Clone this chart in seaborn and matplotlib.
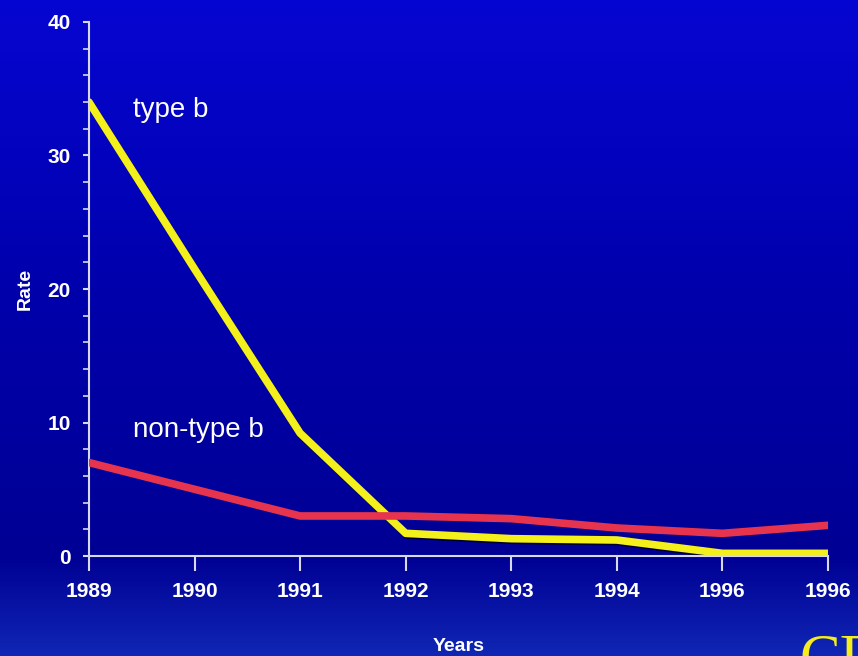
import numpy as np
import pandas as pd
import matplotlib.pyplot as plt
import matplotlib.patheffects as pe
from matplotlib.colors import LinearSegmentedColormap
import seaborn as sns

years = [1989, 1990, 1991, 1992, 1993, 1994, 1995, 1996]
year_labels = ["1989", "1990", "1991", "1992", "1993", "1994", "1996", "1996"]
type_b = [34.0, 21.5, 9.2, 1.7, 1.3, 1.2, 0.2, 0.2]
non_type_b = [7.0, 5.0, 3.0, 3.0, 2.8, 2.1, 1.7, 2.3]
y_ticks = [0, 10, 20, 30, 40]

df = pd.DataFrame({
    "year": years * 2,
    "rate": type_b + non_type_b,
    "group": ["type b"] * len(years) + ["non-type b"] * len(years),
})

sns.set_style("ticks")
plt.rcParams["font.family"] = ["Liberation Sans", "DejaVu Sans"]

fig = plt.figure(figsize=(8.58, 6.56), dpi=100)

# blue slide background
bg = fig.add_axes([0, 0, 1, 1], zorder=-1)
cmap = LinearSegmentedColormap.from_list(
    "slide", [(0.0, "#0606d2"), (0.45, "#0000ab"), (0.85, "#000094"), (1.0, "#1026b4")])
bg.imshow(np.linspace(0, 1, 256).reshape(-1, 1), aspect="auto", cmap=cmap,
          extent=[0, 1, 0, 1])
bg.axis("off")

ax = fig.add_axes([0.1037, 0.1524, 0.8613, 0.8141])
ax.set_facecolor("none")

sns.lineplot(data=df, x="year", y="rate", hue="group",
             hue_order=["type b", "non-type b"],
             palette={"type b": "#f4f01c", "non-type b": "#e6344e"},
             linewidth=5.5, legend=False, ax=ax)
ax.lines[0].set_path_effects([pe.SimpleLineShadow(offset=(0.8, -1.2), shadow_color="black", alpha=0.7),
                              pe.Normal()])
ax.lines[1].set_zorder(3)

ax.set_xlim(1989, 1996)
ax.set_ylim(0, 40)
ax.set_xticks(years)
ax.set_xticklabels(year_labels, fontweight="bold")
ax.set_yticks(y_ticks)
ax.set_yticklabels([str(v) for v in y_ticks], fontweight="bold")
ax.set_yticks(np.arange(0, 41, 2), minor=True)

axis_col = "#d8d8ec"
for side in ["top", "right"]:
    ax.spines[side].set_visible(False)
for side in ["left", "bottom"]:
    ax.spines[side].set_color(axis_col)
    ax.spines[side].set_linewidth(1.5)

ax.tick_params(axis="x", colors=axis_col, length=11, width=1.5, pad=8,
               labelcolor="white", labelsize=15)
ax.tick_params(axis="y", which="major", colors=axis_col, length=4, width=1.5, pad=9,
               labelcolor="white", labelsize=15)
ax.tick_params(axis="y", which="minor", colors=axis_col, length=4, width=1.2)

ax.set_xlabel("Years", color="white", fontsize=14, fontweight="bold", labelpad=26)
ax.set_ylabel("Rate", color="white", fontsize=14, fontweight="bold", labelpad=10)

ax.text(1989.42, 32.9, "type b", color="white", fontsize=20, va="baseline")
ax.text(1989.42, 8.9, "non-type b", color="white", fontsize=20, va="baseline")

fig.text(0.932, -0.03, "CDC", color="#f4ec1c", fontsize=44,
         family=["Liberation Serif", "DejaVu Serif"], va="baseline")

fig.savefig("out.png", dpi=100)
